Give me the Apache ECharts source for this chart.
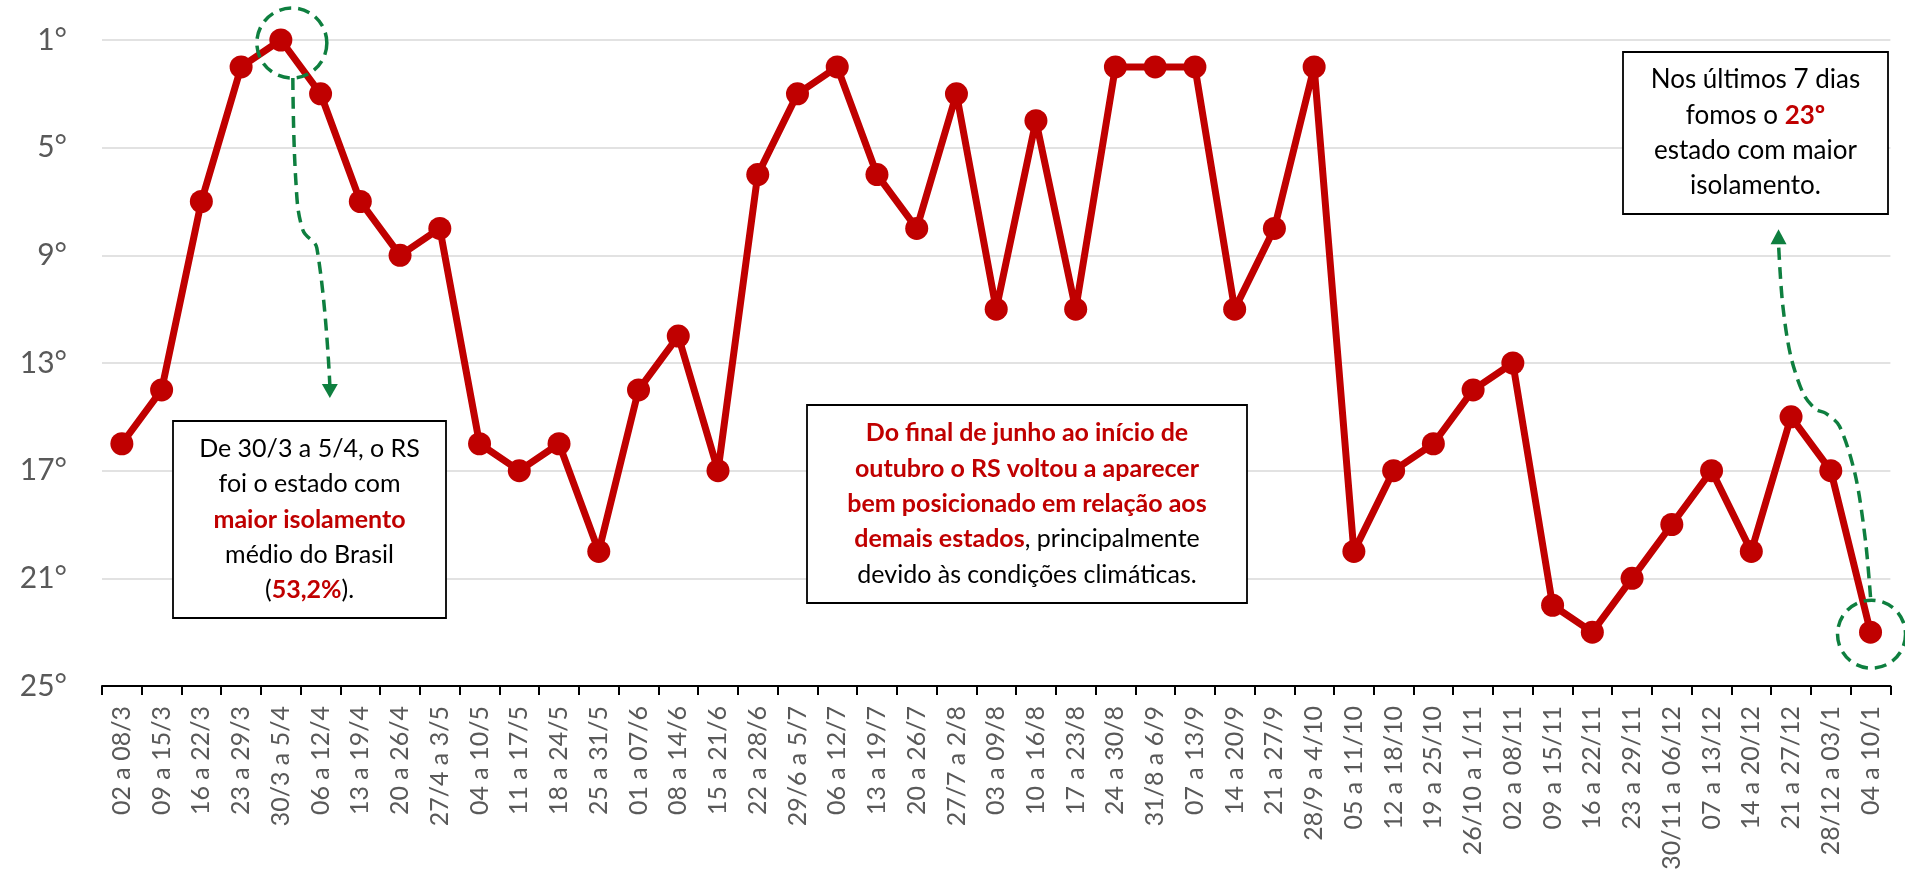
<!DOCTYPE html>
<html><head><meta charset="utf-8">
<script src="https://cdn.jsdelivr.net/npm/echarts@6/dist/echarts.min.js"></script>
<style>html,body{margin:0;padding:0;background:#fff}#c{width:1905px;height:873px}</style>
</head><body><div id="c"></div>
<script>
const categories = ['02 a 08/3','09 a 15/3','16 a 22/3','23 a 29/3','30/3 a 5/4','06 a 12/4','13 a 19/4','20 a 26/4','27/4 a 3/5','04 a 10/5','11 a 17/5','18 a 24/5','25 a 31/5','01 a 07/6','08 a 14/6','15 a 21/6','22 a 28/6','29/6 a 5/7','06 a 12/7','13 a 19/7','20 a 26/7','27/7 a 2/8','03 a 09/8','10 a 16/8','17 a 23/8','24 a 30/8','31/8 a 6/9','07 a 13/9','14 a 20/9','21 a 27/9','28/9 a 4/10','05 a 11/10','12 a 18/10','19 a 25/10','26/10 a 1/11','02 a 08/11','09 a 15/11','16 a 22/11','23 a 29/11','30/11 a 06/12','07 a 13/12','14 a 20/12','21 a 27/12','28/12 a 03/1','04 a 10/1'];
const ranks = [16,14,7,2,1,3,7,9,8,16,17,16,20,14,12,17,6,3,2,6,8,3,11,4,11,2,2,2,11,8,2,20,17,16,14,13,22,23,21,19,17,20,15,17,23];
const rankMin = 1, rankMax = 25, rankStep = 4;

const RED = '#c00000', GREEN = '#0e7f3f';
const chart = echarts.init(document.getElementById('c'), null, {renderer: 'canvas'});
chart.setOption({
  animation: false,
  backgroundColor: '#fff',
  grid: {left: 102, right: 14.6, top: 40, bottom: 187},
  xAxis: {
    type: 'category', data: categories, boundaryGap: true,
    axisLine: {onZero: false, lineStyle: {color: '#000', width: 2}},
    axisTick: {show: true, length: 9, lineStyle: {color: '#000', width: 2}},
    axisLabel: {rotate: 90, interval: 0, margin: 20, color: '#595959', fontSize: 25, fontFamily: 'Lato'}
  },
  yAxis: {
    type: 'value', inverse: true, min: rankMin, max: rankMax, interval: rankStep,
    axisLine: {show: false}, axisTick: {show: false},
    splitLine: {lineStyle: {color: '#d9d9d9', width: 1.5}},
    axisLabel: {formatter: v => v + '°', color: '#595959', fontSize: 30, fontFamily: 'Lato', margin: 35}
  },
  series: [{
    type: 'line', data: ranks, symbol: 'circle', symbolSize: 23,
    lineStyle: {color: RED, width: 7}, itemStyle: {color: RED}
  }]
});

const p1 = chart.convertToPixel({seriesIndex: 0}, [4, ranks[4]]);
const pN = chart.convertToPixel({seriesIndex: 0}, [ranks.length - 1, ranks[ranks.length - 1]]);
const dash = {stroke: GREEN, lineWidth: 3.5, lineDash: [12, 7], fill: null};

function box(x, y, w, h, text, rich, lh) {
  return {
    type: 'group', children: [
      {type: 'rect', shape: {x: x, y: y, width: w, height: h}, style: {fill: '#fff', stroke: '#000', lineWidth: 1.8}, z: 10},
      {type: 'text', x: x + w / 2, y: y + h / 2, z: 11,
       style: {text: text, rich: rich, align: 'center', verticalAlign: 'middle', lineHeight: lh, fontFamily: 'Lato', fontSize: 25, fill: '#000'}}
    ]
  };
}
const lh = 35.3;
function rs(bold, color, size) {
  return {fontFamily: 'Lato', fontSize: size || 25, fontWeight: bold ? 'bold' : 'normal', fill: color, lineHeight: lh, align: 'center'};
}
const rich1 = {n: rs(false, '#000'), r: rs(true, RED)};
const rich3 = {n: rs(false, '#000', 26), r: rs(true, RED, 26)};

chart.setOption({
  graphic: [
    {type: 'circle', shape: {cx: p1[0] + 11, cy: p1[1] + 3, r: 35}, style: dash, z: 5},
    {type: 'polyline', shape: {points: [[p1[0] + 12, p1[1] + 38], [p1[0] + 15, p1[1] + 141], [p1[0] + 22, p1[1] + 190], [p1[0] + 36, p1[1] + 208], [p1[0] + 49, p1[1] + 345]], smooth: 0.4}, style: dash, z: 5},
    {type: 'polygon', shape: {points: [[p1[0] + 41, p1[1] + 344], [p1[0] + 57, p1[1] + 344], [p1[0] + 49, p1[1] + 358]]}, style: {fill: GREEN}, z: 5},
    {type: 'circle', shape: {cx: pN[0] + 1, cy: pN[1] + 2, r: 34}, style: dash, z: 5},
    {type: 'polyline', shape: {points: [[pN[0], pN[1] - 35], [pN[0] - 5, pN[1] - 91], [pN[0] - 15, pN[1] - 156], [pN[0] - 31, pN[1] - 206], [pN[0] - 45, pN[1] - 219], [pN[0] - 55, pN[1] - 223], [pN[0] - 67, pN[1] - 238], [pN[0] - 80, pN[1] - 277], [pN[0] - 88, pN[1] - 329], [pN[0] - 92, pN[1] - 388]], smooth: 0.3}, style: dash, z: 5},
    {type: 'polygon', shape: {points: [[pN[0] - 100, pN[1] - 388], [pN[0] - 84, pN[1] - 388], [pN[0] - 92, pN[1] - 403]]}, style: {fill: GREEN}, z: 5},
    box(173, 421, 273, 197,
      '{n|De 30/3 a 5/4, o RS}\n{n|foi o estado com}\n{r|maior isolamento}\n{n|médio do Brasil}\n{n|(}{r|53,2%}{n|).}', rich1, lh),
    box(807, 405, 440, 198,
      '{r|Do final de junho ao início de}\n{r|outubro o RS voltou a aparecer}\n{r|bem posicionado em relação aos}\n{r|demais estados}{n|, principalmente}\n{n|devido às condições climáticas.}', rich1, lh),
    box(1623, 52, 265, 162,
      '{n|Nos últimos 7 dias}\n{n|fomos o }{r|23º}\n{n|estado com maior}\n{n|isolamento.}', rich3, lh)
  ]
});
</script></body></html>
